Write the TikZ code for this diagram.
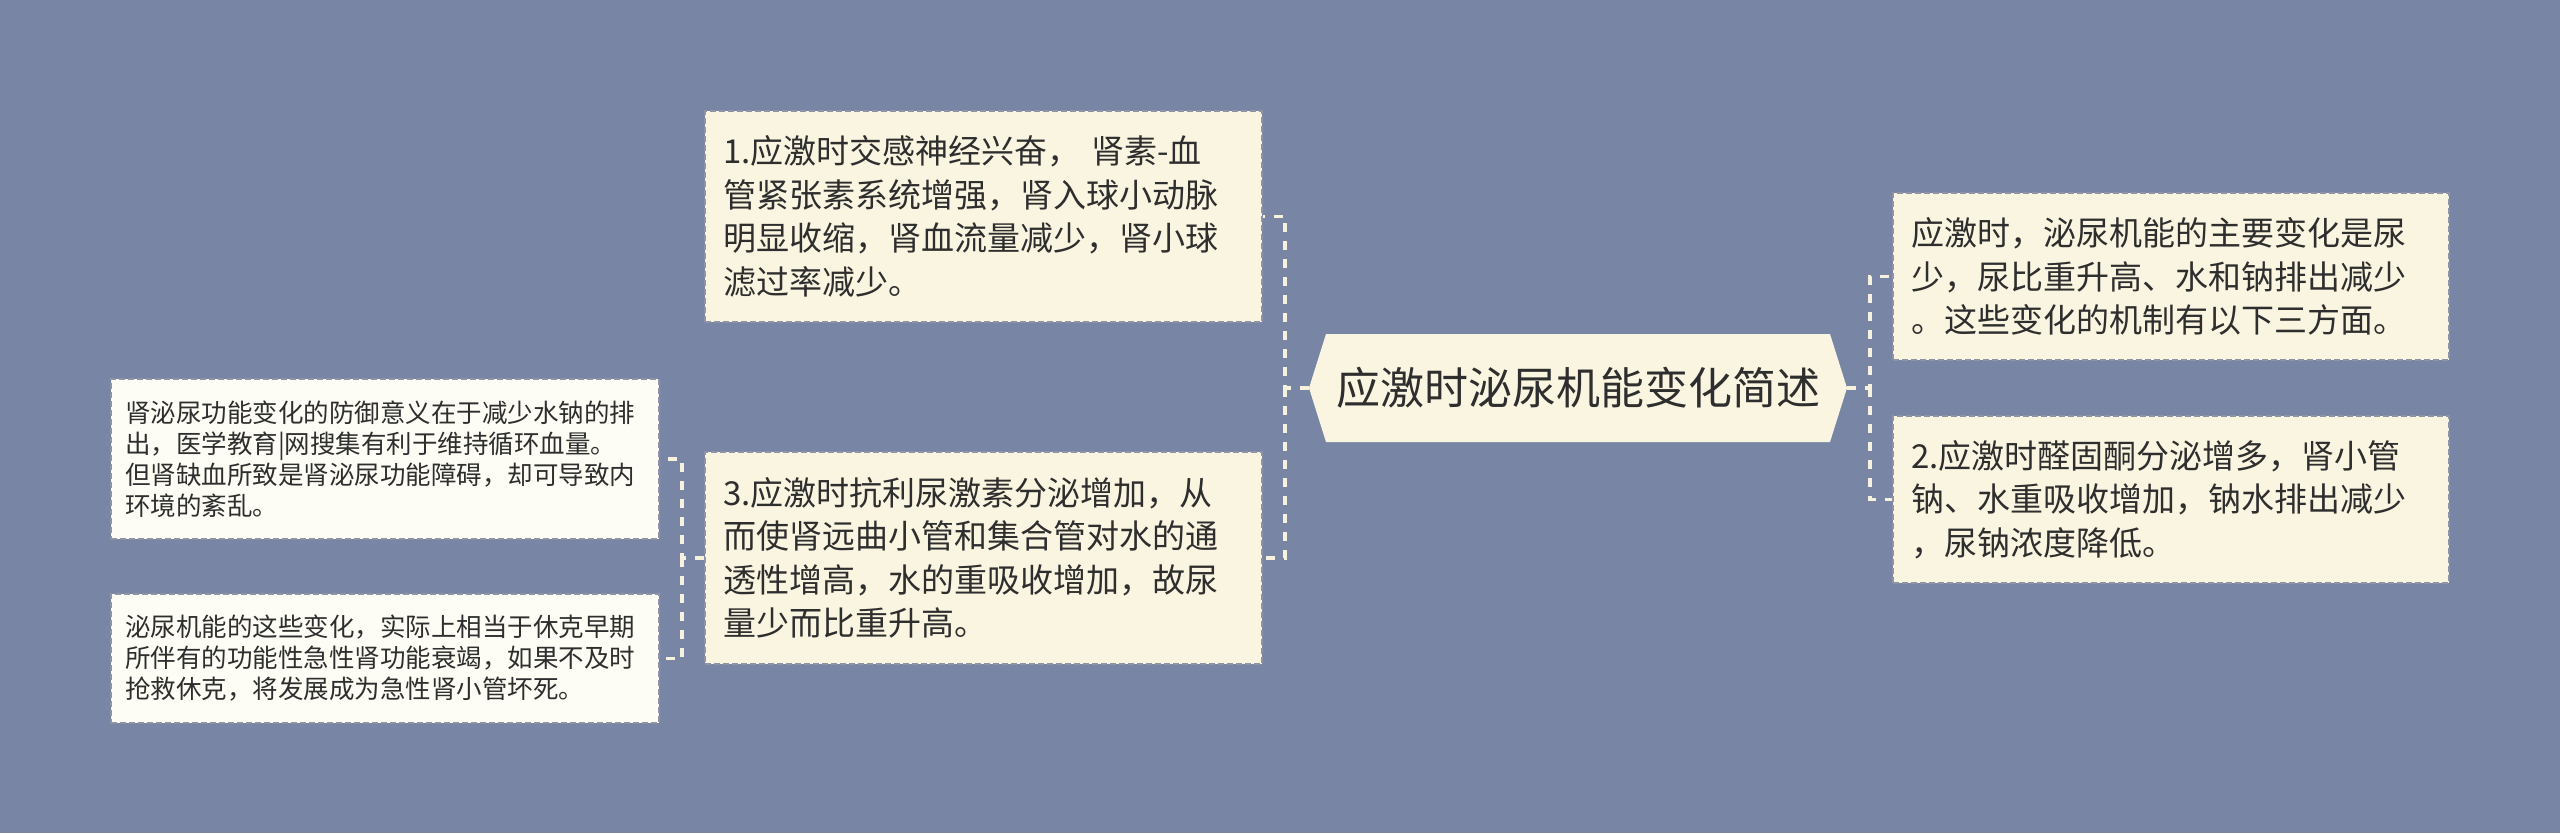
\documentclass[tikz,border=0pt]{standalone}
\usepackage{fontspec}
\setmainfont{Noto Sans CJK SC}
\definecolor{bg}{HTML}{7885A5}
\definecolor{cream}{HTML}{FAF5E1}
\definecolor{paleW}{HTML}{FDFDF5}
\definecolor{bord}{HTML}{8E93A6}
\definecolor{connc}{HTML}{F7F2DE}
\definecolor{txt}{HTML}{2E2E2E}
\tikzset{
  mainbox/.style={rectangle, draw=bord, fill=cream, dash pattern=on 6pt off 3pt, line width=1.5pt,
    minimum width=557pt, text width=521pt, inner xsep=18pt, inner ysep=0pt, align=left,
    font=\fontsize{33}{43.5}\selectfont, text=txt, anchor=center},
  sidebox/.style={rectangle, draw=bord, fill=paleW, dash pattern=on 6pt off 3pt, line width=1.5pt,
    minimum width=548pt, text width=520pt, inner xsep=14pt, inner ysep=0pt, align=left,
    font=\fontsize{25.5}{31}\selectfont, text=txt, anchor=center},
  conn/.style={draw=connc, line width=3.5pt, dash pattern=on 9pt off 9pt},
  hexfill/.style={fill=cream, draw=none},
  titletext/.style={font=\fontsize{44}{50}\selectfont, text=txt, inner sep=0pt}
}
\begin{document}
\begin{tikzpicture}[x=1pt,y=-1pt]
\fill[bg] (0,0) rectangle (2560,833);
\useasboundingbox (0,0) rectangle (2560,833);

% central hexagon
\coordinate (tL) at (1309,388);
\coordinate (tR) at (1847,388);
\fill[hexfill] (tL) -- (1326,334) -- (1830,334) -- (tR) -- (1830,442) -- (1326,442) -- cycle;
\node[titletext] (title) at (1578,388) {应激时泌尿机能变化简述};

% boxes
\node[mainbox, minimum height=211pt] (b1) at (983.5,216.5) {1.应激时交感神经兴奋， 肾素-血\\管紧张素系统增强，肾入球小动脉\\明显收缩，肾血流量减少，肾小球\\滤过率减少。};
\node[mainbox, minimum height=212pt] (b3) at (983.5,558) {3.应激时抗利尿激素分泌增加，从\\而使肾远曲小管和集合管对水的通\\透性增高，水的重吸收增加，故尿\\量少而比重升高。};
\node[mainbox, minimum width=556pt, text width=520pt, minimum height=167pt] (r1) at (2171,276.5) {应激时，泌尿机能的主要变化是尿\\少，尿比重升高、水和钠排出减少\\。这些变化的机制有以下三方面。};
\node[mainbox, minimum width=556pt, text width=520pt, minimum height=167pt] (r2) at (2171,499.5) {2.应激时醛固酮分泌增多，肾小管\\钠、水重吸收增加，钠水排出减少\\，尿钠浓度降低。};
\node[sidebox, minimum height=160pt] (lA) at (385,459) {肾泌尿功能变化的防御意义在于减少水钠的排\\出，医学教育|网搜集有利于维持循环血量。\\但肾缺血所致是肾泌尿功能障碍，却可导致内\\环境的紊乱。};
\node[sidebox, minimum height=129pt] (lB) at (385,658.5) {泌尿机能的这些变化，实际上相当于休克早期\\所伴有的功能性急性肾功能衰竭，如果不及时\\抢救休克，将发展成为急性肾小管坏死。};

% hubs
\coordinate (hubL) at (1285,388);
\coordinate (hubR) at (1870,388);
\coordinate (hubS) at (682,558);

% connectors
\draw[conn] (tL) -- (hubL) |- (b1.east);
\draw[conn] (hubL) |- (b3.east);
\draw[conn] (tR) -- (hubR) |- (r1.west);
\draw[conn] (hubR) |- (r2.west);
\draw[conn] (b3.west) -- (hubS) |- (lA.east);
\draw[conn] (hubS) |- (lB.east);
\end{tikzpicture}
\end{document}
